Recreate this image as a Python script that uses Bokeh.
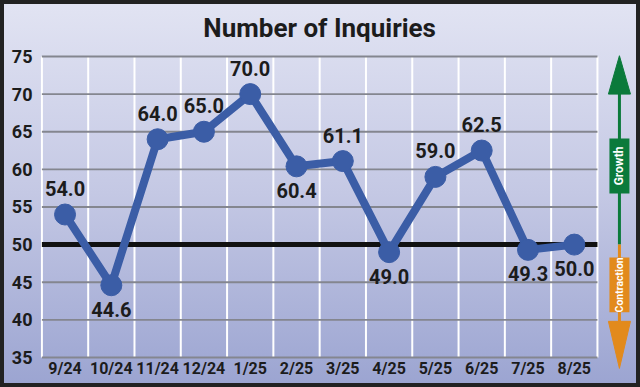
import math
from bokeh.plotting import figure
from bokeh.models import Range1d, FixedTicker, LinearAxis, Label, ColumnDataSource
from bokeh.core.properties import value
from bokeh.embed import file_html
from bokeh.resources import INLINE

# ---------------- data ----------------
months = ["9/24", "10/24", "11/24", "12/24", "1/25", "2/25",
          "3/25", "4/25", "5/25", "6/25", "7/25", "8/25"]
inquiries = [54.0, 44.6, 64.0, 65.0, 70.0, 60.4, 61.1, 49.0, 59.0, 62.5, 49.3, 50.0]
label_side = ["above", "below", "above", "above", "above", "below",
              "above", "below", "above", "above", "below", "below"]
y_ticks = [35, 40, 45, 50, 55, 60, 65, 70, 75]
baseline = 50
title_text = "Number of Inquiries"
growth_text = "Growth"
contraction_text = "Contraction"

# ---------------- style ----------------
FONT = "Roboto"
LINE_BLUE = "#3b5da6"
TEXT_DARK = "#1c1c1c"
GREEN = "#0b7a3b"
ORANGE = "#e28a1c"

n = len(months)
xs = list(range(n))

p = figure(width=640, height=387,
           x_range=Range1d(-0.53, 12.43), y_range=Range1d(31.01, 82.44),
           output_backend="svg", toolbar_location=None,
           min_border_left=40, min_border_right=0, min_border_top=0, min_border_bottom=0,
           x_axis_location=None, y_axis_location="left",
           background_fill_color=None, border_fill_color=None, outline_line_color=None)
p.styles = {"background": "linear-gradient(180deg, #e2e4f3 0%, #c4c8e4 50%, #9ba4d1 100%)",
            "box-shadow": "inset 0 0 0 4px #222222"}
p.grid.visible = False

# y axis
ya = p.yaxis[0]
ya.ticker = FixedTicker(ticks=y_ticks)
ya.axis_line_color = None
ya.major_tick_line_color = None
ya.minor_tick_line_color = None
ya.major_tick_in = 0
ya.major_tick_out = 0
ya.major_label_standoff = 8
ya.major_label_text_font = FONT
ya.major_label_text_font_style = "bold"
ya.major_label_text_font_size = "18px"
ya.major_label_text_color = TEXT_DARK

# x axis, fixed at the bottom gridline
xa = LinearAxis(fixed_location=min(y_ticks), ticker=FixedTicker(ticks=xs),
                major_label_overrides={i: m for i, m in enumerate(months)})
xa.axis_line_color = None
xa.major_tick_line_color = None
xa.minor_tick_line_color = None
xa.major_tick_in = 0
xa.major_tick_out = 0
xa.major_label_standoff = 2
xa.major_label_text_font = FONT
xa.major_label_text_font_style = "bold"
xa.major_label_text_font_size = "16px"
xa.major_label_text_color = TEXT_DARK
p.add_layout(xa, "below")

# grid
bounds = [i - 0.5 for i in range(n + 1)]
p.segment(x0=bounds, y0=[min(y_ticks)] * len(bounds), x1=bounds, y1=[max(y_ticks)] * len(bounds),
          line_color="white", line_width=2)
hy = [t for t in y_ticks if t != baseline]
p.segment(x0=[-0.5] * len(hy), y0=hy, x1=[n - 0.5] * len(hy), y1=hy,
          line_color="#84868f", line_width=1.8)
p.segment(x0=[-0.5], y0=[baseline], x1=[n - 0.5], y1=[baseline],
          line_color="#111111", line_width=5)

# data
p.line(xs, inquiries, line_color=LINE_BLUE, line_width=8, line_join="round")
p.scatter(xs, inquiries, size=21, fill_color=LINE_BLUE, line_color=LINE_BLUE)

labels = [f"{v:.1f}" for v in inquiries]
above = ColumnDataSource(dict(x=[x for x, s in zip(xs, label_side) if s == "above"],
                              y=[v for v, s in zip(inquiries, label_side) if s == "above"],
                              t=[l for l, s in zip(labels, label_side) if s == "above"]))
below = ColumnDataSource(dict(x=[x for x, s in zip(xs, label_side) if s == "below"],
                              y=[v for v, s in zip(inquiries, label_side) if s == "below"],
                              t=[l for l, s in zip(labels, label_side) if s == "below"]))
for src, off in ((above, -26), (below, 24)):
    p.text(x="x", y="y", text="t", source=src, y_offset=off,
           text_align="center", text_baseline="middle",
           text_font=value(FONT), text_font_style="bold",
           text_font_size="20px", text_color=TEXT_DARK)

# growth / contraction arrow
ax = n - 0.5 + 0.475
hw = 0.238
bw = 0.432
p.segment(x0=[ax], y0=[baseline], x1=[ax], y1=[70], line_color=GREEN, line_width=3)
p.patch([ax - hw, ax + hw, ax], [70, 70, 75.1], fill_color=GREEN, line_color=GREEN)
p.rect(x=[ax], y=[60.45], width=bw, height=7.3, fill_color=GREEN, line_color=None)
p.text(x=[ax], y=[60.45], text=[growth_text], angle=math.pi / 2,
       text_align="center", text_baseline="middle", text_font=value(FONT),
       text_font_style="bold", text_font_size="12px", text_color="white")

p.segment(x0=[ax], y0=[baseline], x1=[ax], y1=[39.8], line_color=ORANGE, line_width=3)
p.patch([ax - hw, ax + hw, ax], [39.8, 39.8, 33.55], fill_color=ORANGE, line_color=ORANGE)
p.rect(x=[ax], y=[44.65], width=bw, height=7.3, fill_color=ORANGE, line_color=None)
p.text(x=[ax], y=[44.65], text=[contraction_text], angle=math.pi / 2,
       text_align="center", text_baseline="middle", text_font=value(FONT),
       text_font_style="bold", text_font_size="10.5px", text_color="white")

# title
p.add_layout(Label(x=(n - 1) / 2, y=78.85, text=title_text, text_align="center",
                   text_baseline="middle", text_font=FONT, text_font_style="bold",
                   text_font_size="26px", text_color=TEXT_DARK))

open("out.html", "w").write(file_html(p, INLINE))
